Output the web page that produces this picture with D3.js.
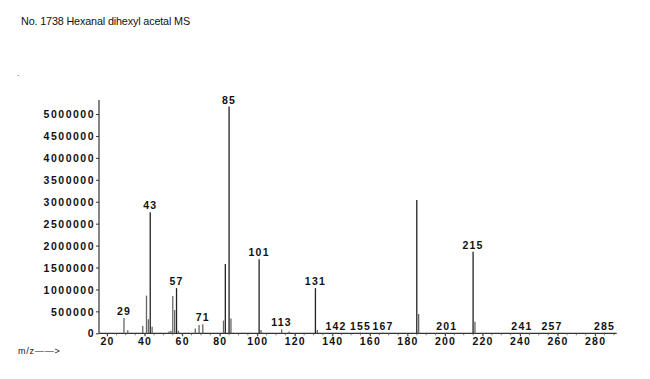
<!DOCTYPE html>
<html><head><meta charset="utf-8">
<script src="https://cdn.jsdelivr.net/npm/d3@7"></script>
<style>
html,body{margin:0;padding:0;background:#fff;}
svg{display:block;}
text{font-family:"Liberation Sans",Arial,sans-serif;fill:#111;}
</style></head>
<body><svg id="c" width="650" height="379"></svg>
<script>
const title = "No. 1738 Hexanal dihexyl acetal MS";
const mz        = [29, 31, 39, 41, 42, 43, 44, 53, 54, 55, 56, 57, 58, 67, 69, 71, 82, 83, 85, 86, 101, 102, 113, 117, 131, 132, 142, 155, 167, 185, 186, 201, 215, 216, 241, 257, 285];
const intensity = [350000, 70000, 165000, 860000, 320000, 2760000, 150000, 40000, 60000, 850000, 530000, 1030000, 60000, 110000, 190000, 205000, 290000, 1580000, 5170000, 340000, 1690000, 75000, 90000, 40000, 1030000, 75000, 15000, 15000, 12000, 3040000, 440000, 15000, 1860000, 265000, 12000, 12000, 15000];
const labelMz = [29, 43, 57, 71, 85, 101, 113, 131, 142, 155, 167, 201, 215, 241, 257, 285];
const yTicks = [0, 500000, 1000000, 1500000, 2000000, 2500000, 3000000, 3500000, 4000000, 4500000, 5000000];
const xTicks = [20, 40, 60, 80, 100, 120, 140, 160, 180, 200, 220, 240, 260, 280];
const xMinor = d3.range(20, 291, 5);

const svg = d3.select("#c");
const x = d3.scaleLinear().domain([15.7, 291.5]).range([99, 616.7]);
const y = d3.scaleLinear().domain([0, 5320000]).range([333.3, 100]);
const base = y(0);
const FF = "Liberation Sans, Arial, sans-serif";

svg.append("text").attr("x", 21).attr("y", 25).attr("font-size", 10.8).attr("letter-spacing", -0.15).text(title);
svg.append("text").attr("x", 17).attr("y", 76).attr("font-size", 8).text(".");

// y axis
const ya = svg.append("g").attr("transform", `translate(${x.range()[0]},0)`)
  .call(d3.axisLeft(y).tickValues(yTicks).tickSize(3).tickPadding(1).tickFormat(d3.format("d")));
ya.select(".domain").attr("stroke", "#333").attr("stroke-width", 1.2).attr("d", `M0,${y.range()[1]}V${base}`);
ya.selectAll(".tick line").attr("stroke", "#333");
ya.selectAll(".tick text").attr("font-size", 10.5).attr("letter-spacing", 1.5).attr("font-weight", "bold")
  .attr("font-family", FF).attr("fill", "#222").attr("dy", "0.35em");

// x axis
const xa = svg.append("g").attr("transform", `translate(0,${base})`)
  .call(d3.axisBottom(x).tickValues(xTicks).tickSize(3).tickPadding(1).tickFormat(d3.format("d")));
xa.select(".domain").attr("stroke", "#333").attr("stroke-width", 1.2).attr("d", `M${x.range()[0]},0H${x.range()[1]}`);
xa.selectAll(".tick line").attr("stroke", "#333");
xa.selectAll(".tick text").attr("font-size", 10.5).attr("letter-spacing", 1.2).attr("font-weight", "bold")
  .attr("font-family", FF).attr("fill", "#222");
svg.append("g").selectAll("line").data(xMinor).join("line")
  .attr("x1", d => x(d)).attr("x2", d => x(d))
  .attr("y1", base).attr("y2", base + 2).attr("stroke", "#555").attr("stroke-width", 0.8);

// peaks
svg.append("g").selectAll("line").data(mz).join("line")
  .attr("x1", d => x(d)).attr("x2", d => x(d))
  .attr("y1", base).attr("y2", (d, i) => y(intensity[i]))
  .attr("stroke", (d, i) => intensity[i] > 1000000 ? "#222" : "#666")
  .attr("stroke-width", 1.3);

// peak labels
svg.append("g").selectAll("text").data(labelMz).join("text")
  .attr("x", d => x(d))
  .attr("y", d => y(intensity[mz.indexOf(d)]) - 3)
  .attr("text-anchor", "middle").attr("font-size", 10.5).attr("letter-spacing", 1.2).attr("font-weight", "bold")
  .attr("fill", "#222")
  .text(d => d);

svg.append("text").attr("x", 18).attr("y", 354).attr("font-size", 9).attr("letter-spacing", 0.8).text("m/z——>");
</script></body></html>
